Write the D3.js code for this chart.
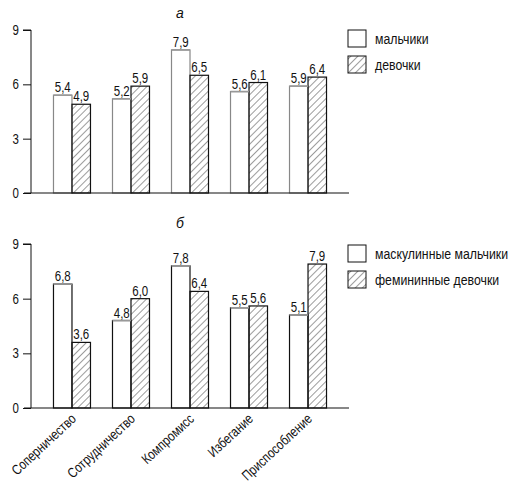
<!DOCTYPE html>
<html>
<head>
<meta charset="utf-8">
<script src="https://cdn.jsdelivr.net/npm/d3@7"></script>
<style>
  body { margin: 0; background: #fff; }
  svg text { font-family: "Liberation Sans", Arial, sans-serif; fill: #111; }
</style>
</head>
<body>
<div id="chart"></div>
<script>
// Data
const categories = ['Соперничество', 'Сотрудничество', 'Компромисс', 'Избегание', 'Приспособление'];
const boysA = [5.4, 5.2, 7.9, 5.6, 5.9];
const girlsA = [4.9, 5.9, 6.5, 6.1, 6.4];
const boysB = [6.8, 4.8, 7.8, 5.5, 5.1];
const girlsB = [3.6, 6.0, 6.4, 5.6, 7.9];
const seriesA = ['мальчики', 'девочки'];
const seriesB = ['маскулинные мальчики', 'фемининные девочки'];
const yTicks = [0, 3, 6, 9];

const width = 511;
const height = 490;
const narrow = 0.82; // the original uses a condensed face

const svg = d3.select('#chart')
  .append('svg')
  .attr('width', width)
  .attr('height', height);

// squeeze text horizontally to imitate a narrow font
function condense(sel, k) {
  sel.each(function() {
    const len = this.getComputedTextLength();
    d3.select(this)
      .attr('textLength', len * k)
      .attr('lengthAdjust', 'spacingAndGlyphs');
  });
}

// Hatch pattern
const defs = svg.append('defs');
defs.append('pattern')
  .attr('id', 'hatch')
  .attr('patternUnits', 'userSpaceOnUse')
  .attr('width', 5)
  .attr('height', 5)
  .attr('patternTransform', 'rotate(45)')
  .append('line')
  .attr('x1', 0).attr('y1', 0)
  .attr('x2', 0).attr('y2', 5)
  .attr('stroke', '#222')
  .attr('stroke-width', 0.9);

// Shared x scales
const x0 = d3.scaleBand()
  .domain(categories)
  .range([31, 349])
  .paddingInner(0.373)
  .paddingOuter(0.381);

const x1 = d3.scaleBand()
  .domain([0, 1])
  .range([0, x0.bandwidth()]);

function drawPanel(opts) {
  const { title, boys, girls, names, yBottom, yTop, titleY, legendY, showLabels, whiteSide } = opts;
  const g = svg.append('g');

  const y = d3.scaleLinear().domain([0, 9]).range([yBottom, yTop]);

  // Title letter
  g.append('text')
    .attr('x', 180)
    .attr('y', titleY)
    .attr('text-anchor', 'middle')
    .style('font-style', 'italic')
    .style('font-size', '14px')
    .text(title);

  // Y axis
  const yAxis = g.append('g')
    .attr('transform', 'translate(31,0)')
    .call(d3.axisLeft(y).tickValues(yTicks).tickSize(8).tickPadding(4).tickFormat(d3.format('d')));
  yAxis.select('.domain').attr('stroke', '#111').attr('d', `M-8,${yTop}H0V${yBottom}`);
  yAxis.selectAll('.tick line').attr('stroke', '#111');
  yAxis.selectAll('.tick text')
    .style('font-family', '"Liberation Sans", Arial, sans-serif')
    .style('font-size', '14px')
    .call(condense, narrow);

  const rows = categories.map((c, i) => ({ cat: c, vals: [boys[i], girls[i]] }));

  const groups = g.selectAll('.grp')
    .data(rows)
    .enter()
    .append('g')
    .attr('transform', d => `translate(${x0(d.cat)},0)`);

  const bars = groups.selectAll('.bar')
    .data(d => d.vals.map((v, k) => ({ v, k })))
    .enter();

  bars.append('rect')
    .attr('x', d => x1(d.k))
    .attr('y', d => y(d.v))
    .attr('width', x1.bandwidth())
    .attr('height', d => y(0) - y(d.v))
    .attr('fill', d => d.k === 0 ? '#fff' : 'url(#hatch)')
    .attr('stroke', d => d.k === 0 ? whiteSide : '#111')
    .attr('stroke-width', 1.2);

  // Grey top edge on the white bars
  bars.filter(d => d.k === 0)
    .append('line')
    .attr('x1', d => x1(d.k))
    .attr('x2', d => x1(d.k) + x1.bandwidth())
    .attr('y1', d => y(d.v))
    .attr('y2', d => y(d.v))
    .attr('stroke', '#999')
    .attr('stroke-width', 1.6);

  bars.append('text')
    .attr('x', d => x1(d.k) + x1.bandwidth() / 2)
    .attr('y', d => y(d.v) - 3)
    .attr('text-anchor', 'middle')
    .style('font-size', '14px')
    .text(d => d.v.toFixed(1).replace('.', ','))
    .call(condense, narrow);

  // X axis line
  g.append('line')
    .attr('x1', 24).attr('x2', 349)
    .attr('y1', yBottom).attr('y2', yBottom)
    .attr('stroke', '#111')
    .attr('stroke-width', 1.2);

  // Category labels
  if (showLabels) {
    g.selectAll('.cat')
      .data(categories)
      .enter()
      .append('text')
      .attr('text-anchor', 'end')
      .attr('transform', d => `translate(${x0(d) + x0.bandwidth() / 2 + 5},${yBottom + 12}) rotate(-43)`)
      .style('font-size', '14px')
      .text(d => d)
      .call(condense, narrow);
  }

  // Legend
  const legend = g.append('g')
    .attr('transform', `translate(348,${legendY})`);
  names.forEach((n, k) => {
    legend.append('rect')
      .attr('x', 0)
      .attr('y', k * 26)
      .attr('width', 18)
      .attr('height', 17)
      .attr('fill', k === 0 ? '#fff' : 'url(#hatch)')
      .attr('stroke', '#111')
      .attr('stroke-width', 1);
    // scaled with a transform so the text box is the narrow one
    legend.append('text')
      .attr('transform', `translate(27,${k * 26 + 8.5}) scale(${narrow},1)`)
      .attr('dy', '0.35em')
      .style('font-size', '15px')
      .text(n);
  });
}

drawPanel({
  title: 'а', boys: boysA, girls: girlsA, names: seriesA,
  yBottom: 193, yTop: 30, titleY: 18, legendY: 30, showLabels: false, whiteSide: '#888'
});

drawPanel({
  title: 'б', boys: boysB, girls: girlsB, names: seriesB,
  yBottom: 408, yTop: 244, titleY: 228, legendY: 245, showLabels: true, whiteSide: '#111'
});
</script>
</body>
</html>
